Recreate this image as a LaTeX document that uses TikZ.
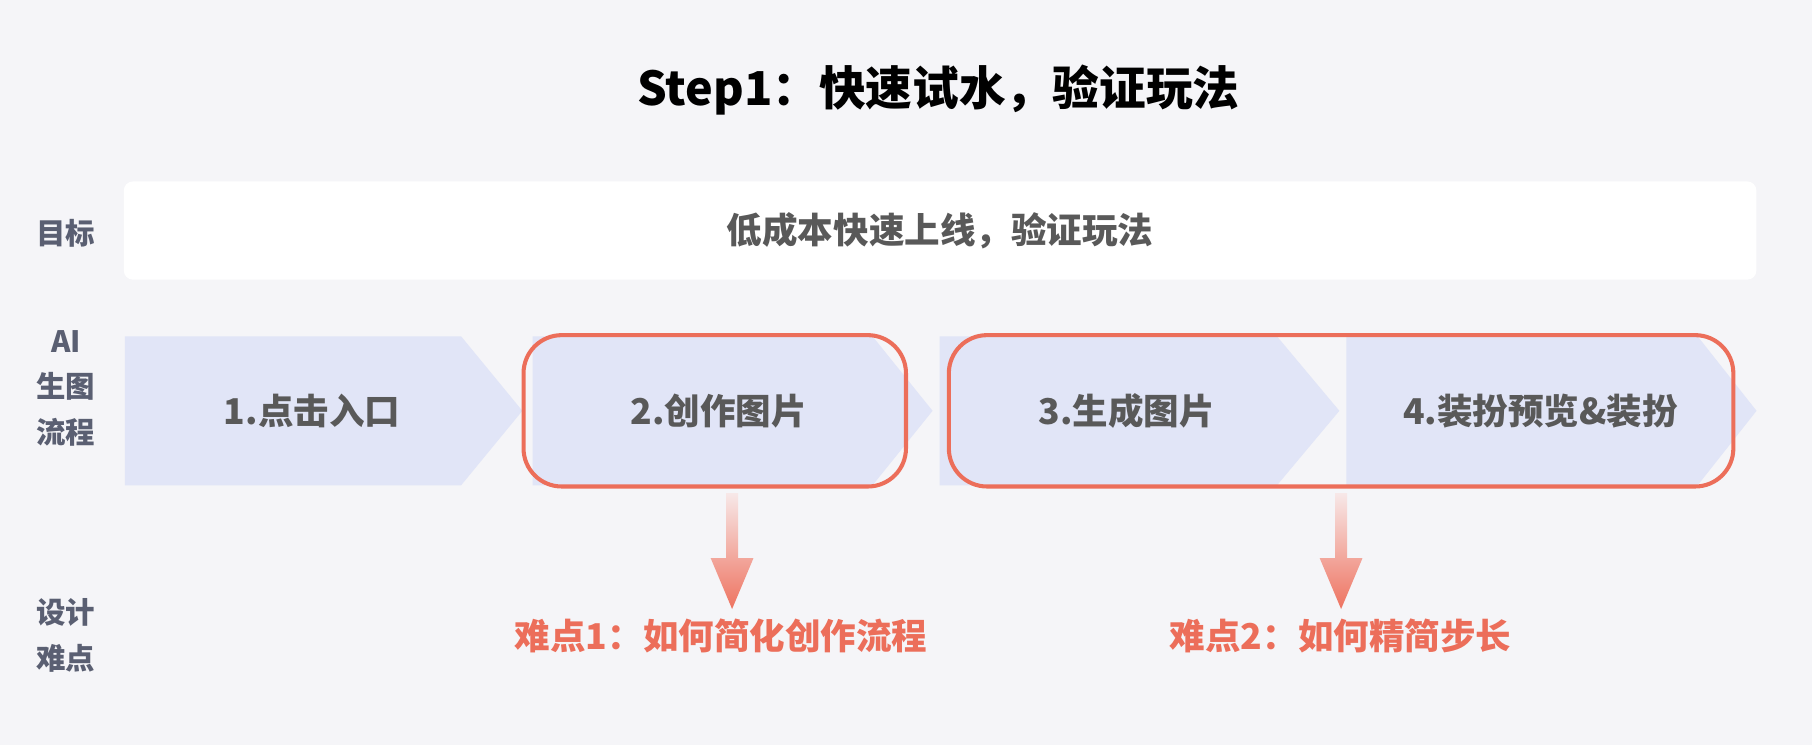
\documentclass[tikz,border=0pt]{standalone}
\usepackage{fontspec}
\setmainfont{Noto Sans CJK SC}
\usetikzlibrary{calc}
\definecolor{bgcol}{HTML}{F5F5F8}
\definecolor{chevcol}{HTML}{E1E5F7}
\definecolor{txtcol}{HTML}{595959}
\definecolor{labcol}{HTML}{5A5F72}
\definecolor{redcol}{HTML}{EC6E5A}
\definecolor{arrtop}{HTML}{F7E8E8}
\definecolor{arrbot}{HTML}{EE7360}
\begin{document}
\begin{tikzpicture}
[x=0.02cm,y=-0.02cm,
 stepfont/.style={font=\fontsize{17.5}{20}\selectfont\bfseries,text=txtcol},
 rowlabel/.style={font=\fontsize{14.5}{22.5}\selectfont\bfseries,text=labcol,align=center},
 goalbox/.style={fill=white,rounded corners=4.5pt,minimum width=28.26cm,minimum height=1.7cm,
   font=\fontsize{17.5}{20}\selectfont\bfseries,text=txtcol},
 hardbox/.style={draw=redcol,line width=2pt,rounded corners=0.66cm,minimum height=2.62cm},
 hardtext/.style={font=\fontsize{17.5}{20}\selectfont\bfseries,text=redcol},
 arrowfill/.style={top color=arrtop,bottom color=arrbot}]
%% background
\fill[bgcol] (0,0) rectangle (1568,645);
\useasboundingbox (0,0) rectangle (1568,645);
\node[font=\fontsize{23}{27}\selectfont\bfseries] (title) at (812,78) {Step1：快速试水，验证玩法};
%% row labels
\node[rowlabel] (lgoal) at (57,202) {目标};
\node[rowlabel] (lflow) at (57,336) {AI\\生图\\流程};
\node[rowlabel] (lhard) at (57,550) {设计\\难点};
%% goal box
\node[goalbox] (goal) at (813.5,199.5) {低成本快速上线，验证玩法};
%% the chevrons
\foreach \xa/\xb/\xc in {108/399/452, 461/755/807, 813/1105/1159, 1165/1469/1520} {
  \fill[chevcol] (\xa,291) -- (\xb,291) -- (\xc,355.5) -- (\xb,420) -- (\xa,420) -- cycle;
}
\node[stepfont] (s1) at (270,356) {1.点击入口};
\node[stepfont] (s2) at (622,356) {2.创作图片};
\node[stepfont] (s3) at (975,356) {3.生成图片};
\node[stepfont] (s4) at (1333,356) {4.装扮预览\&装扮};
%% the hard parts
\node[hardbox,minimum width=6.62cm] (hardA) at (618.5,355.5) {};
\node[hardbox,minimum width=13.58cm] (hardB) at (1160.5,355.5) {};
\node[hardtext] (hard1) at (624,550) {难点1：如何简化创作流程};
\node[hardtext] (hard2) at (1160,550) {难点2：如何精简步长};
\coordinate (a1) at ($(hardA.south)+(15,4)$);
\coordinate (a2) at ($(hardB.south)+(0,4)$);
\coordinate (t1) at ($(a1 |- hard1.north)+(0,-2)$);
\coordinate (t2) at ($(a2 |- hard2.north)+(0,-2)$);
\foreach \s/\t in {a1/t1, a2/t2} {
  \shade[arrowfill] ($(\s)+(-5.2,0)$) -- ($(\s)+(5.2,0)$) -- ($(\t)+(5.2,-44)$) --
    ($(\t)+(18.5,-44)$) -- (\t) -- ($(\t)+(-18.5,-44)$) -- ($(\t)+(-5.2,-44)$) -- cycle;
}
\end{tikzpicture}
\end{document}
